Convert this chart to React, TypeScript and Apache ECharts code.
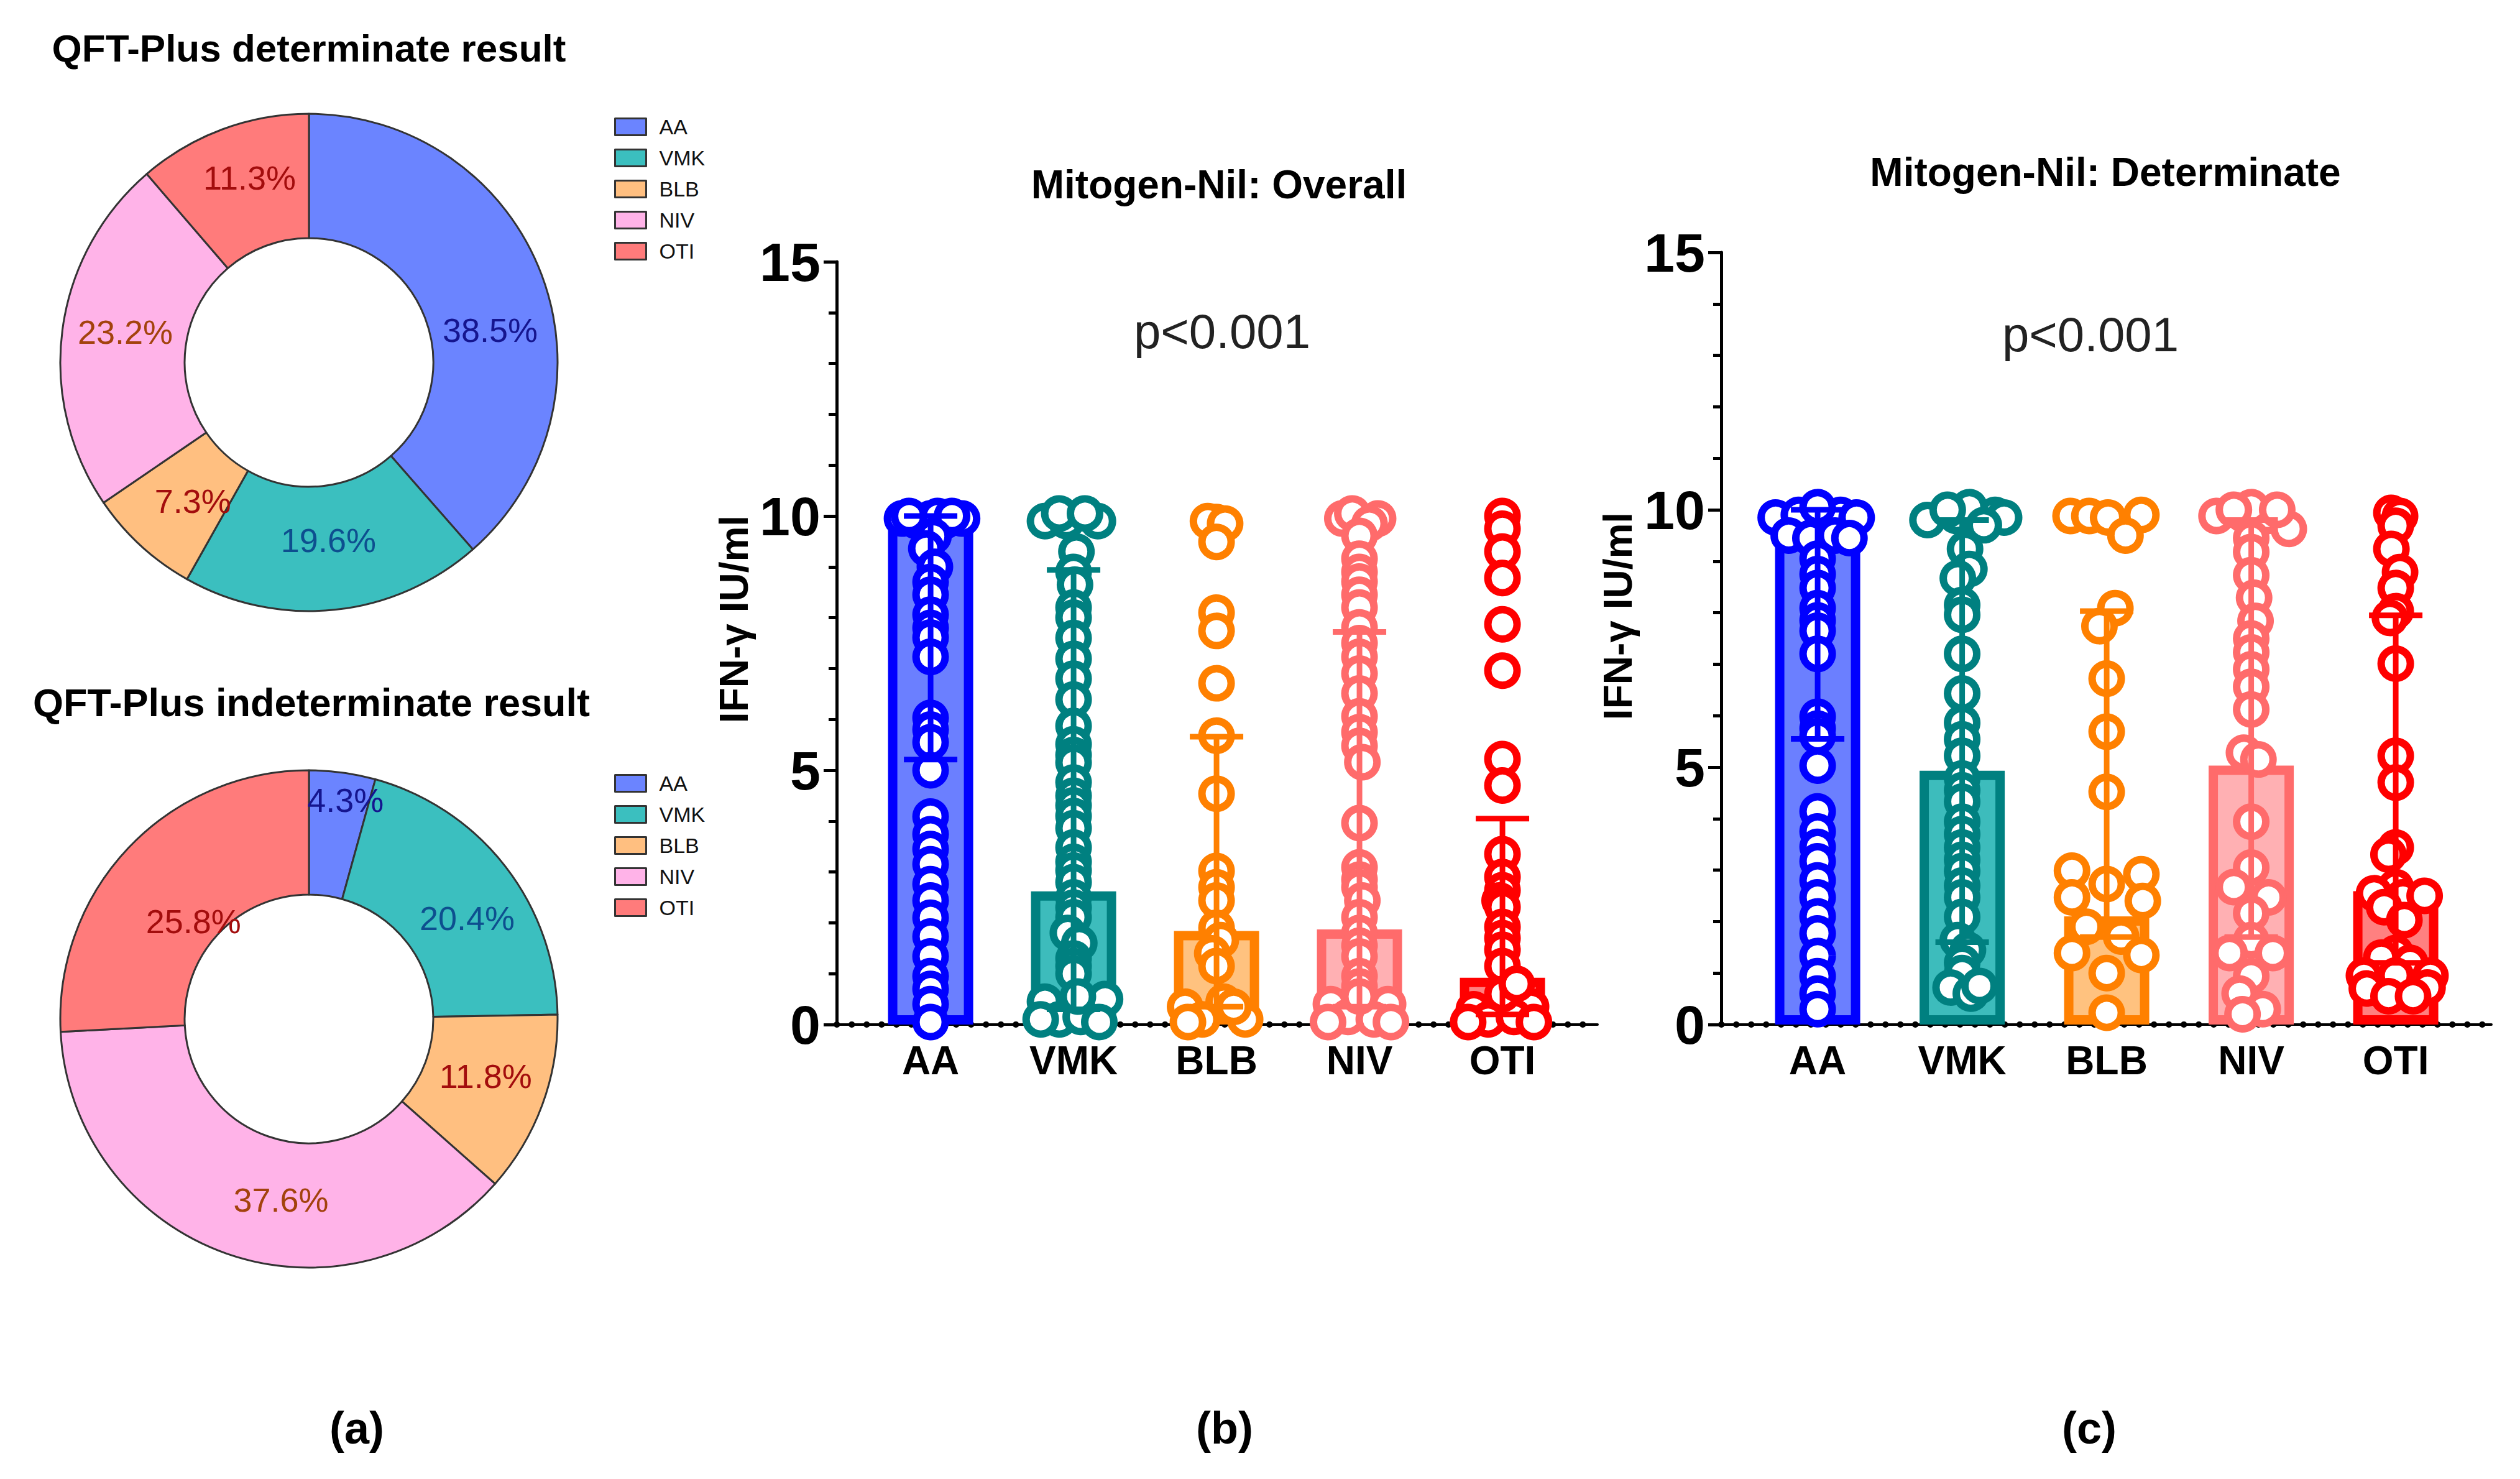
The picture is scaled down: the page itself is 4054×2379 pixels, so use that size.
import React, { useEffect, useRef } from "react";
import * as echarts from "echarts";

const CATS = ["AA", "VMK", "BLB", "NIV", "OTI"];
const PIE_DET = [38.5, 19.6, 7.3, 23.2, 11.3];
const PIE_IND = [4.3, 20.4, 11.8, 37.6, 25.8];
const PIE_COLORS = ["#6b84ff", "#3bbfbf", "#ffbf80", "#ffb3e8", "#ff7b7b"];
const PIE_LABEL_COLORS = ["#15158f", "#0d4f8f", "#a30d0d", "#a3420d", "#a30d0d"];

const FILL = ["#6b7fff", "#3dbcbc", "#ffc27f", "#ffb0b3", "#ff8080"];
const STROKE = ["#0000ff", "#008080", "#ff8000", "#ff6b6b", "#ff0000"];

// Mitogen-Nil: Overall (median, IQR)
const OV_MEDIAN = [9.81, 2.62, 1.84, 1.87, 0.92];
const OV_Q1 = [5.21, 0.3, 0.35, 0.35, 0.2];
const OV_Q3 = [10.0, 8.94, 5.66, 7.72, 4.05];
// Mitogen-Nil: Determinate
const DET_MEDIAN = [9.71, 4.93, 2.1, 5.03, 2.59];
const DET_Q1 = [5.55, 1.6, 1.7, 1.7, 1.2];
const DET_Q3 = [10.0, 9.8, 8.03, 9.8, 7.95];

// individual points: [horizontal jitter (category units), IFN-γ IU/ml]
const OV_AA: number[][] = [
  [-0.2, 9.95], [-0.1, 9.9], [0, 9.95], [0.1, 9.9], [0.22, 9.95], [-0.15, 10], [0.05, 10], [0.15, 10],
  [0.02, 9.6], [-0.03, 9.36], [0.03, 9.0], [0, 8.7], [0, 8.45], [0, 8.06], [0, 7.8], [0, 7.61], [0, 7.23],
  [0, 6.03], [0, 5.8], [0, 5.55], [0, 5.0], [0, 4.09], [0, 3.74], [0, 3.45], [0, 3.15], [0, 2.76],
  [0, 2.44], [0, 2.1], [0, 1.73], [0, 1.34], [0, 0.95], [0, 0.7], [0, 0.4], [0, 0.05],
];
const OV_VMK: number[][] = [
  [-0.2, 9.9], [-0.05, 9.9], [0.17, 9.9], [-0.1, 10.05], [0.08, 10.05], [0.02, 9.3], [0, 8.9], [0.01, 8.65],
  [0, 8.2], [0, 8.0], [0, 7.6], [0, 7.19], [0, 6.8], [0, 6.39], [0, 5.87], [0, 5.51], [0, 5.3], [0, 5.15],
  [0, 4.76], [0, 4.5], [0, 4.31], [0, 4.1], [0, 3.86], [0, 3.48], [0, 3.2], [0, 3.03], [0, 2.8], [0, 2.5],
  [0, 2.3], [0, 2.11], [-0.04, 1.8], [0.04, 1.6], [0, 1.3], [0, 1.15], [0, 1.0],
  [-0.2, 0.45], [0.22, 0.5], [-0.1, 0.1], [0.05, 0.15], [0.18, 0.05], [-0.23, 0.1], [0.03, 0.55],
];
const OV_BLB: number[][] = [
  [0, 9.88], [-0.06, 9.9], [0.06, 9.85], [0, 9.49], [0, 8.1], [0, 7.74], [0, 6.71], [0, 5.68],
  [0, 4.54], [0, 3.02], [0, 2.7], [0, 2.44], [0, 1.9], [0.03, 1.66], [-0.03, 1.4], [0, 1.15],
  [-0.22, 0.35], [0.05, 0.45], [0.2, 0.1], [-0.1, 0.1], [0.12, 0.35], [-0.2, 0.05],
];
const OV_NIV: number[][] = [
  [-0.12, 9.95], [0, 9.9], [0.13, 9.95], [-0.05, 10.05], [0.07, 9.85], [0, 9.61], [0, 9.16], [0, 8.9],
  [0, 8.71], [0, 8.45], [0, 8.2], [0, 7.81], [0, 7.5], [0, 7.23], [0, 6.9], [0, 6.51], [0, 6.06], [0, 5.75],
  [0, 5.48], [0.02, 5.16], [0, 3.96], [0, 3.09], [0, 2.85], [0, 2.7], [0.02, 2.44], [0, 2.11], [0, 1.8],
  [0, 1.55], [0, 1.34], [0, 0.95], [0, 0.75],
  [-0.2, 0.4], [0.2, 0.4], [-0.08, 0.15], [0.1, 0.1], [0.22, 0.05], [-0.22, 0.05], [0, 0.55],
];
const OV_OTI: number[][] = [
  [0, 10.0], [0, 9.75], [0, 9.3], [0, 8.78], [0, 7.87], [0, 6.96], [0, 5.22], [0, 4.7], [0, 3.35],
  [0, 2.9], [0, 2.64], [-0.02, 2.44], [0, 2.31], [0, 1.92], [0, 1.7], [0, 1.47], [0, 1.15],
  [-0.2, 0.3], [0.2, 0.35], [-0.1, 0.1], [0.08, 0.15], [0.22, 0.05], [-0.24, 0.05], [0, 0.6], [0.1, 0.8],
];

const DET_AA: number[][] = [
  [-0.29, 9.85], [-0.13, 9.9], [0.03, 9.95], [0.16, 9.9], [0.27, 9.85], [-0.2, 9.5], [-0.05, 9.45],
  [0.12, 9.5], [0.22, 9.45], [0, 10.05], [0, 9.05], [0, 8.75], [0, 8.48], [0, 8.09], [0, 7.85], [0, 7.65],
  [0, 7.2], [0, 5.98], [0, 5.75], [0, 5.6], [0, 5.03], [0, 4.14], [0, 3.75], [0, 3.45], [0, 3.17],
  [0, 2.8], [0, 2.47], [0, 2.1], [0, 1.77], [0, 1.33], [0, 0.94], [0, 0.6], [0, 0.3],
];
const DET_VMK: number[][] = [
  [-0.24, 9.8], [-0.04, 9.88], [0.1, 9.88], [0.23, 9.9], [0.29, 9.85], [0.05, 10.05], [-0.1, 10.0],
  [0.15, 9.7], [0.02, 9.24], [0.05, 8.85], [-0.03, 8.67], [0, 8.15], [0, 7.96], [0, 7.2], [0, 6.43],
  [0, 5.86], [0, 5.54], [0, 5.22], [0, 4.78], [0, 4.55], [0, 4.33], [0, 3.94], [0, 3.7], [0, 3.44],
  [0, 3.2], [0, 2.98], [0, 2.7], [0, 2.47], [0, 2.09], [-0.03, 1.64], [0.04, 1.45], [0, 1.2], [0, 1.0],
  [-0.08, 0.72], [0.06, 0.6], [0.12, 0.75],
];
const DET_BLB: number[][] = [
  [-0.25, 9.88], [-0.12, 9.88], [0.01, 9.85], [0.24, 9.9], [0.13, 9.5], [0.06, 8.09], [-0.05, 7.74],
  [0, 6.72], [0, 5.69], [0, 4.52], [-0.24, 2.99], [0.24, 2.92], [0, 2.73], [-0.24, 2.47], [0.25, 2.4],
  [-0.14, 1.9], [0.1, 1.71], [-0.24, 1.39], [0.24, 1.35], [0, 1.0], [0, 0.23],
];
const DET_NIV: number[][] = [
  [-0.24, 9.88], [-0.05, 9.9], [0.11, 9.88], [0.26, 9.63], [0, 10.05], [-0.12, 10.0], [0.18, 10.0],
  [0, 9.45], [0, 9.18], [0, 8.73], [0.02, 8.29], [0.03, 7.84], [0, 7.5], [0, 7.23], [0, 6.9], [0, 6.56],
  [0, 6.12], [-0.05, 5.28], [0.05, 5.15], [0, 3.94], [0, 3.05], [-0.12, 2.67], [0.12, 2.47], [0, 2.16],
  [0, 1.64], [-0.15, 1.39], [0.15, 1.39], [0, 0.94], [-0.08, 0.6], [0.08, 0.3], [-0.06, 0.2],
];
const DET_OTI: number[][] = [
  [-0.03, 9.94], [0.03, 9.88], [0, 9.69], [-0.03, 9.24], [0.03, 8.79], [0, 8.48], [0, 8.03], [-0.04, 7.9],
  [0, 7.01], [0, 5.22], [0, 4.7], [0, 3.44], [-0.05, 3.3], [0, 2.67], [0.05, 2.47], [0.2, 2.5],
  [-0.15, 2.55], [-0.08, 2.28], [0.06, 2.03], [0, 1.39], [-0.1, 1.3], [0.1, 1.2], [0, 0.95],
  [-0.22, 0.95], [0.24, 0.95], [-0.2, 0.7], [0.22, 0.72], [-0.05, 0.55], [0.12, 0.55],
];

const OV_POINTS = [OV_AA, OV_VMK, OV_BLB, OV_NIV, OV_OTI];
const DET_POINTS = [DET_AA, DET_VMK, DET_BLB, DET_NIV, DET_OTI];

// label nudges (px) to match where the original software put the pie labels
const PIE_DET_LABEL_SHIFT = [[8, 55], [0, -15], [18, 0], [5, -10], [10, -13]];
const PIE_IND_LABEL_SHIFT = [[18, -52], [15, 23], [0, -13], [55, 5], [34, 52]];

const FONT = "Liberation Sans";

function pieSeries(values: number[], center: number[], shifts: number[][]) {
  return {
    type: "pie",
    center,
    radius: [200, 400],
    startAngle: 90,
    clockwise: true,
    silent: true,
    itemStyle: { borderColor: "#333", borderWidth: 3 },
    label: {
      show: true,
      position: "inside",
      formatter: "{c}%",
      fontSize: 54,
      fontFamily: FONT,
    },
    labelLine: { show: false },
    labelLayout: (params: any) => {
      const s = shifts[params.dataIndex] || [0, 0];
      return { dx: s[0], dy: s[1] };
    },
    data: values.map((v, i) => ({
      name: CATS[i],
      value: v,
      itemStyle: { color: PIE_COLORS[i] },
      label: { color: PIE_LABEL_COLORS[i] },
    })),
  };
}

function yAxisDef(gridIndex: number) {
  return {
    type: "value",
    gridIndex,
    min: 0,
    max: 15,
    interval: 5,
    axisLine: { show: true, onZero: false, lineStyle: { color: "#000", width: 5 } },
    axisTick: { show: true, length: 21, lineStyle: { color: "#000", width: 5 } },
    minorTick: { show: true, splitNumber: 5, length: 13, lineStyle: { color: "#000", width: 5 } },
    splitLine: { show: false },
    axisLabel: { fontSize: 88, fontWeight: "bold", color: "#000", fontFamily: FONT, margin: 26 },
  };
}

function xAxisDefs(gridIndex: number, min: number, max: number) {
  return [
    {
      type: "value",
      gridIndex,
      position: "bottom",
      offset: 0,
      min,
      max,
      axisLine: { show: true, onZero: false, lineStyle: { color: "#000", width: 4 } },
      axisTick: { show: false },
      splitLine: { show: false },
      axisLabel: {
        show: true,
        customValues: [0, 1, 2, 3, 4],
        formatter: (v: number) => CATS[Math.round(v)] || "",
        fontSize: 64,
        fontWeight: "bold",
        color: "#000",
        fontFamily: FONT,
        margin: 26,
      },
    },
    {
      type: "value",
      gridIndex,
      position: "bottom",
      offset: 0,
      min,
      max,
      axisLine: {
        show: true,
        onZero: false,
        lineStyle: { color: "#000", width: 10, type: [0.5, 23.5], cap: "round" },
      },
      axisTick: { show: false },
      splitLine: { show: false },
      axisLabel: { show: false },
    },
  ];
}

function chartSeries(axisIdx: number, xAxisIndex: number, median: number[], q1: number[], q3: number[], points: number[][][]) {
  const out: any[] = [];
  out.push({
    type: "bar",
    xAxisIndex,
    yAxisIndex: axisIdx,
    barWidth: 137,
    silent: true,
    z: 1,
    data: median.map((v, i) => ({
      value: [i, v],
      itemStyle: { color: FILL[i], borderColor: STROKE[i], borderWidth: 15 },
    })),
  });
  points.forEach((pts, i) => {
    out.push({
      type: "scatter",
      name: CATS[i] + "-pts-" + axisIdx,
      xAxisIndex,
      yAxisIndex: axisIdx,
      symbol: "circle",
      symbolSize: 47,
      silent: true,
      z: 3,
      itemStyle: { color: "#ffffff", borderColor: STROKE[i], borderWidth: 12, opacity: 1 },
      data: pts.map((p) => [i + p[0], p[1]]),
    });
  });
  out.push({
    type: "custom",
    xAxisIndex,
    yAxisIndex: axisIdx,
    silent: true,
    z: 5,
    encode: { x: 0, y: [1, 2] },
    data: median.map((_, i) => [i, q1[i], q3[i], i]),
    renderItem: (params: any, api: any) => {
      const x = api.value(0);
      const a = api.coord([x, api.value(1)]);
      const b = api.coord([x, api.value(2)]);
      const col = STROKE[api.value(3)];
      const st = { stroke: col, lineWidth: 9 };
      return {
        type: "group",
        children: [
          { type: "line", shape: { x1: a[0], y1: a[1], x2: b[0], y2: b[1] }, style: st },
          { type: "line", shape: { x1: a[0] - 43, y1: a[1], x2: a[0] + 43, y2: a[1] }, style: st },
          { type: "line", shape: { x1: b[0] - 43, y1: b[1], x2: b[0] + 43, y2: b[1] }, style: st },
        ],
      };
    },
  });
  return out;
}

function txt(text: string, x: number, y: number, size: number, bold: boolean, rotation = 0, color = "#000") {
  return {
    type: "text",
    x,
    y,
    rotation,
    silent: true,
    style: {
      text,
      fontSize: size,
      fontWeight: bold ? "bold" : "normal",
      fontFamily: FONT,
      fill: color,
      align: "center",
      verticalAlign: "middle",
    },
  };
}

export default function App() {
  const ref = useRef<HTMLDivElement>(null);
  useEffect(() => {
    if (!ref.current) return;
    const chart = echarts.init(ref.current, null, { renderer: "svg", width: 4054, height: 2379 });
    const legendBase = {
      orient: "vertical",
      left: 983,
      icon: "rect",
      itemWidth: 50,
      itemHeight: 27,
      itemGap: 16,
      selectedMode: false,
      data: CATS,
      itemStyle: { borderColor: "#333", borderWidth: 3 },
      textStyle: { fontSize: 34, fontFamily: FONT, color: "#111", lineHeight: 27, padding: [0, 0, 0, 16] },
    };
    chart.setOption({
      animation: false,
      backgroundColor: "#ffffff",
      legend: [
        { ...legendBase, top: 182 },
        { ...legendBase, top: 1238 },
      ],
      grid: [
        { left: 1346, top: 421, width: 1224, height: 1227, containLabel: false },
        { left: 2769, top: 406, width: 1239, height: 1242, containLabel: false },
      ],
      xAxis: [...xAxisDefs(0, -0.657, 4.665), ...xAxisDefs(1, -0.667, 4.662)],
      yAxis: [yAxisDef(0), yAxisDef(1)],
      series: [
        pieSeries(PIE_DET, [497, 583], PIE_DET_LABEL_SHIFT),
        pieSeries(PIE_IND, [497, 1639], PIE_IND_LABEL_SHIFT),
        ...chartSeries(0, 0, OV_MEDIAN, OV_Q1, OV_Q3, OV_POINTS),
        ...chartSeries(1, 2, DET_MEDIAN, DET_Q1, DET_Q3, DET_POINTS),
      ],
      graphic: [
        txt("QFT-Plus determinate result", 497, 77, 62, true),
        txt("QFT-Plus indeterminate result", 501, 1130, 63, true),
        txt("Mitogen-Nil: Overall", 1961, 297, 64, true),
        txt("Mitogen-Nil: Determinate", 3387, 277, 64, true),
        txt("p<0.001", 1966, 533, 78, false, 0, "#222"),
        txt("p<0.001", 3363, 538, 78, false, 0, "#222"),
        txt("IFN-γ IU/ml", 1181, 996, 64, true, Math.PI / 2),
        txt("IFN-γ IU/ml", 2603, 991, 64, true, Math.PI / 2),
        txt("(a)", 574, 2297, 72, true),
        txt("(b)", 1970, 2297, 72, true),
        txt("(c)", 3361, 2297, 72, true),
      ],
    });
    return () => chart.dispose();
  }, []);
  return (
    <div
      ref={ref}
      style={{ position: "fixed", left: 0, top: 0, width: 4054, height: 2379, background: "#fff" }}
    />
  );
}
